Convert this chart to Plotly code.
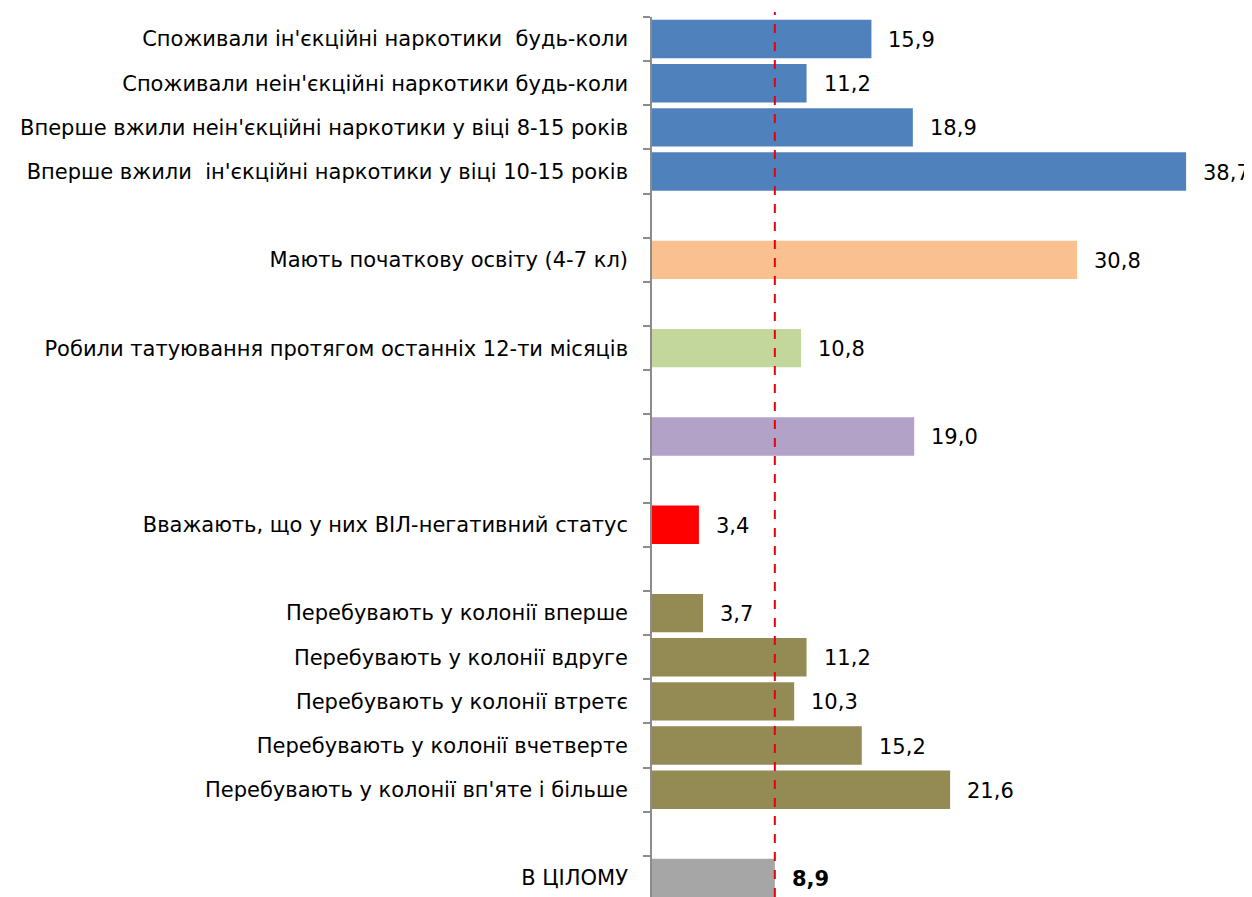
import plotly.graph_objects as go

categories = [
    "Споживали ін'єкційні наркотики  будь-коли",
    "Споживали неін'єкційні наркотики будь-коли",
    "Вперше вжили неін'єкційні наркотики у віці 8-15 років",
    "Вперше вжили  ін'єкційні наркотики у віці 10-15 років",
    " ",
    "Мають початкову освіту (4-7 кл)",
    "  ",
    "Робили татуювання протягом останніх 12-ти місяців",
    "   ",
    "    ",
    "     ",
    "Вважають, що у них ВІЛ-негативний статус",
    "      ",
    "Перебувають у колонії вперше",
    "Перебувають у колонії вдруге",
    "Перебувають у колонії втретє",
    "Перебувають у колонії вчетверте",
    "Перебувають у колонії вп'яте і більше",
    "       ",
    "В ЦІЛОМУ",
]
values = [15.9, 11.2, 18.9, 38.7, None, 30.8, None, 10.8, None, 19.0, None, 3.4, None,
          3.7, 11.2, 10.3, 15.2, 21.6, None, 8.9]
colors = ["#4F81BD", "#4F81BD", "#4F81BD", "#4F81BD", "#FFFFFF", "#FAC090", "#FFFFFF",
          "#C3D69B", "#FFFFFF", "#B3A2C7", "#FFFFFF", "#FF0000", "#FFFFFF",
          "#948A54", "#948A54", "#948A54", "#948A54", "#948A54", "#FFFFFF", "#A6A6A6"]
bold_flags = [False] * 19 + [True]
overall = 8.9

FONT = "DejaVu Sans"

fig = go.Figure()
fig.add_trace(go.Bar(
    x=values, y=categories, orientation="h",
    marker=dict(color=colors, line=dict(width=0)),
    hoverinfo="skip", showlegend=False,
))

for cat, v, b in zip(categories, values, bold_flags):
    if v is None:
        continue
    txt = f"{v:.1f}".replace(".", ",")
    if b:
        txt = f"<b>{txt}</b>"
    fig.add_annotation(x=v, y=cat, xref="x", yref="y", text=txt, showarrow=False,
                       xanchor="left", yanchor="middle", xshift=15, yshift=-1,
                       font=dict(family=FONT, size=21, color="#000000"))

fig.add_shape(type="line", xref="x", yref="paper", x0=overall, x1=overall, y0=0, y1=1.0057,
              line=dict(color="#E8000B", width=2, dash="dash"))

fig.update_layout(
    width=1244, height=889,
    margin=dict(l=644, r=10, t=9, b=0, autoexpand=False),
    paper_bgcolor="white", plot_bgcolor="white",
    bargap=0.13,
    font=dict(family=FONT, size=21, color="#000000"),
)
fig.update_xaxes(range=[0, 42.75], visible=False, showgrid=False, zeroline=False,
                 automargin=False)
fig.update_yaxes(
    type="category", categoryorder="array", categoryarray=categories,
    range=[19.43, -0.5], automargin=False,
    showline=True, linecolor="#8C8C8C", linewidth=1.5,
    ticks="outside", tickson="boundaries", ticklen=7, tickcolor="#8C8C8C", tickwidth=1.5,
    ticklabelstandoff=18, showgrid=False, zeroline=False,
    tickfont=dict(family=FONT, size=21, color="#000000"),
)

fig.write_html("out.html")
